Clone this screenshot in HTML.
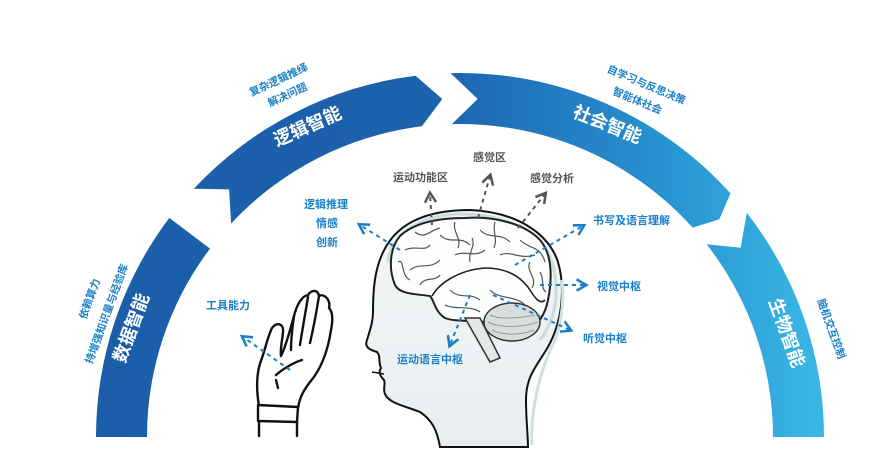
<!DOCTYPE html>
<html><head><meta charset="utf-8"><style>
html,body{margin:0;padding:0;background:#fff;}
svg{display:block;}
text{font-family:"Liberation Sans","Noto Sans CJK SC",sans-serif;}
</style></head><body>
<svg id="s" width="886" height="470" viewBox="0 0 886 470" xmlns="http://www.w3.org/2000/svg">
<defs>
<linearGradient id="g" gradientUnits="userSpaceOnUse" x1="100" y1="0" x2="840" y2="0">
<stop offset="0" stop-color="#1b5da9"/>
<stop offset="0.45" stop-color="#1c62ad"/>
<stop offset="0.75" stop-color="#2791d0"/>
<stop offset="1" stop-color="#3cbbe8"/>
</linearGradient>
<linearGradient id="hg" x1="0" y1="0" x2="0" y2="1">
<stop offset="0" stop-color="#f3f6f7"/><stop offset="1" stop-color="#e8eef0"/>
</linearGradient>
<marker id="ab" viewBox="0 0 10 10" refX="7" refY="5" markerWidth="7" markerHeight="7" orient="auto"><path d="M1,1 L8,5 L1,9" fill="none" stroke="#1a7fc9" stroke-width="1.8"/></marker>
<marker id="ag" viewBox="0 0 10 10" refX="7" refY="5" markerWidth="7" markerHeight="7" orient="auto"><path d="M1,1 L8,5 L1,9" fill="none" stroke="#555" stroke-width="1.8"/></marker>
</defs>
<g id="bands" fill="url(#g)"></g>

<g fill="#fff" font-size="18" font-weight="bold" text-anchor="middle">
<text transform="translate(137,330) rotate(-70)">数据智能</text>
<text transform="translate(310,132) rotate(-24)">逻辑智能</text>
<text transform="translate(605,130) rotate(22)">社会智能</text>
<text transform="translate(781,335) rotate(70)">生物智能</text>
</g>
<g fill="#1a7fc9" font-size="10.5" font-weight="bold" text-anchor="middle">
<text transform="translate(280,83) rotate(-25)">复杂逻辑推绎</text>
<text transform="translate(289,98) rotate(-25)">解决问题</text>
<text transform="translate(93,300) rotate(-70)">依赖算力</text>
<text transform="translate(110,315) rotate(-70)">持增强知识量与经验库</text>
<text transform="translate(645,88) rotate(23)">自学习与反思决策</text>
<text transform="translate(636,104) rotate(23)">智能体社会</text>
<text transform="translate(828,330) rotate(70)">脑机交互控制</text>
</g>

<!-- head -->
<path d="M440,447 C437,430 432,420 420,412 C405,406 392,404 386,396 C382,390 386,384 384,380 C380,376 378,372 381,368 C378,362 381,356 377,352 C370,350 364,347 367,340 C370,330 373,322 373,312 C373,290 374,260 392,238 C410,216 440,210 470,210 C515,212 548,232 558,262 C566,290 562,325 545,352 C533,370 526,380 526,400 C526,420 528,435 528,447 Z" fill="url(#hg)" stroke="#111" stroke-width="2"/>
<path d="M532,445 C530,410 540,370 555,340 C562,320 564,300 562,280" fill="none" stroke="#cfe0e3" stroke-width="3"/>
<path d="M372,372 L384,374" stroke="#111" stroke-width="1.5"/>
<path d="M388,262 C390,235 420,215 460,214 C510,214 545,235 553,265 C560,295 555,320 540,340" fill="none" stroke="#c9dde0" stroke-width="3"/>
<!-- brain -->
<path d="M395,285 C388,268 390,248 400,236 C415,222 440,218 465,218 C495,216 525,224 540,240 C553,255 552,280 548,300 C545,315 538,325 528,330 C515,336 500,330 485,322 C470,320 455,322 445,318 C435,312 434,300 430,296 C418,294 400,295 395,285 Z" fill="#fcfdfd" stroke="#222" stroke-width="2"/>
<path d="M432,296 C440,282 460,270 485,268 C505,268 520,275 530,290 C535,298 540,305 545,300" fill="none" stroke="#222" stroke-width="1.6"/>
<path d="M405,250 C415,245 425,252 430,245 M440,235 C450,245 460,235 470,245 M480,230 C490,240 500,232 510,242 M410,270 C420,262 430,270 440,260 M455,255 C465,250 475,258 485,250 M500,255 C510,250 520,260 535,255 M520,240 C530,250 540,245 545,262 M415,232 C425,240 430,230 440,228 M450,290 C460,300 470,292 480,300 M490,290 C500,300 515,295 525,305 M445,305 C455,310 470,305 480,312 M398,262 C405,258 400,275 410,280 M455,222 C452,232 462,238 458,248 M495,222 C492,232 498,238 494,248 M530,262 C525,270 538,278 532,288 M420,285 C425,276 435,282 440,275 M470,262 C468,252 476,246 472,238 M540,272 C545,280 540,288 546,292 M512,308 C518,312 528,308 534,315" fill="none" stroke="#555" stroke-width="1.2"/>
<ellipse cx="512" cy="322" rx="28" ry="19" fill="#d8dcdd" stroke="#333" stroke-width="1.5"/>
<path d="M490,315 C500,320 520,318 535,315 M488,322 C500,328 520,328 538,322 M492,330 C505,336 522,335 534,330" fill="none" stroke="#888" stroke-width="0.8"/>
<path d="M465,318 L490,362 L500,358 L480,318 Z" fill="#e4e8e9" stroke="#333" stroke-width="1.5"/>

<!-- hand -->
<g fill="#fff" stroke="#111" stroke-width="2.4" stroke-linejoin="round" stroke-linecap="round">
<path d="M259,406 C256,388 256,372 262,358 C266,346 268,336 272,328 C276,322 284,323 283,332 C282,342 280,350 281,356 C286,346 290,330 294,316 C297,304 302,296 308,295 C312,289 318,290 319,296 C324,293 331,300 329,308 C333,312 333,320 331,330 C328,350 322,368 310,382 C304,390 300,396 298,408"/>
<path d="M294,316 C292,330 291,342 291,350 M308,297 C305,315 302,332 300,345 M319,296 C316,315 313,330 310,343"/>
<path d="M276,375 C284,368 295,362 302,360 M278,388 L276,380"/>
<path d="M258,405 L298,407 L297,422 L258,421 Z"/>
<path d="M259,422 L259,436 M297,422 L297,436"/>
</g>

<g fill="none" stroke-width="2" stroke-dasharray="4,4">
<path d="M432,225 L430,194" stroke="#555" marker-end="url(#ag)"/>
<path d="M478,218 L490,176" stroke="#555" marker-end="url(#ag)"/>
<path d="M518,228 L545,194" stroke="#555" marker-end="url(#ag)"/>
<path d="M515,265 L583,226" stroke="#1a7fc9" marker-end="url(#ab)"/>
<path d="M470,295 L450,345" stroke="#1a7fc9" marker-end="url(#ab)"/>
<path d="M540,285 L585,285" stroke="#1a7fc9" marker-end="url(#ab)"/>
<path d="M493,295 L570,330" stroke="#1a7fc9" marker-end="url(#ab)"/>
<path d="M400,250 L360,225" stroke="#1a7fc9" marker-end="url(#ab)"/>
<path d="M290,370 L243,337" stroke="#1a7fc9" marker-end="url(#ab)"/>
</g>

<g font-size="11" font-weight="bold">
<text x="393" y="181" fill="#555">运动功能区</text>
<text x="473" y="161" fill="#555">感觉区</text>
<text x="530" y="182" fill="#555">感觉分析</text>
<g fill="#1a7fc9">
<text x="593" y="224">书写及语言理解</text>
<text x="597" y="290">视觉中枢</text>
<text x="583" y="342">听觉中枢</text>
<text x="397" y="363">运动语言中枢</text>
<text x="304" y="208">逻辑推理</text>
<text x="316" y="227">情感</text>
<text x="316" y="246">创新</text>
<text x="206" y="309">工具能力</text>
</g>
</g>
</svg>
<script>
(function(){
var cx=460,cy=437,R=364,r=313,m=338.5;
function P(a,rr){var t=a*Math.PI/180;return (cx+rr*Math.cos(t)).toFixed(1)+","+(cy-rr*Math.sin(t)).toFixed(1);}
function band(a0,a1,notch,tip){
 var d="M"+P(a0,R)+" A"+R+","+R+" 0 0 1 "+P(a1,R);
 if(tip) d+=" L"+P(a1-tip,m);
 d+=" L"+P(a1,r)+" A"+r+","+r+" 0 0 0 "+P(a0,r);
 if(notch) d+=" L"+P(a0-notch,m);
 return d+" Z";
}
var g=document.getElementById("bands");
[[180,143,0,0],[137,97,4,4],[91.5,42,4.5,2],[38,0,4,0]].forEach(function(b){
 var p=document.createElementNS("http://www.w3.org/2000/svg","path");
 p.setAttribute("d",band(b[0],b[1],b[2],b[3]));g.appendChild(p);
});
})();
</script>
</body></html>
